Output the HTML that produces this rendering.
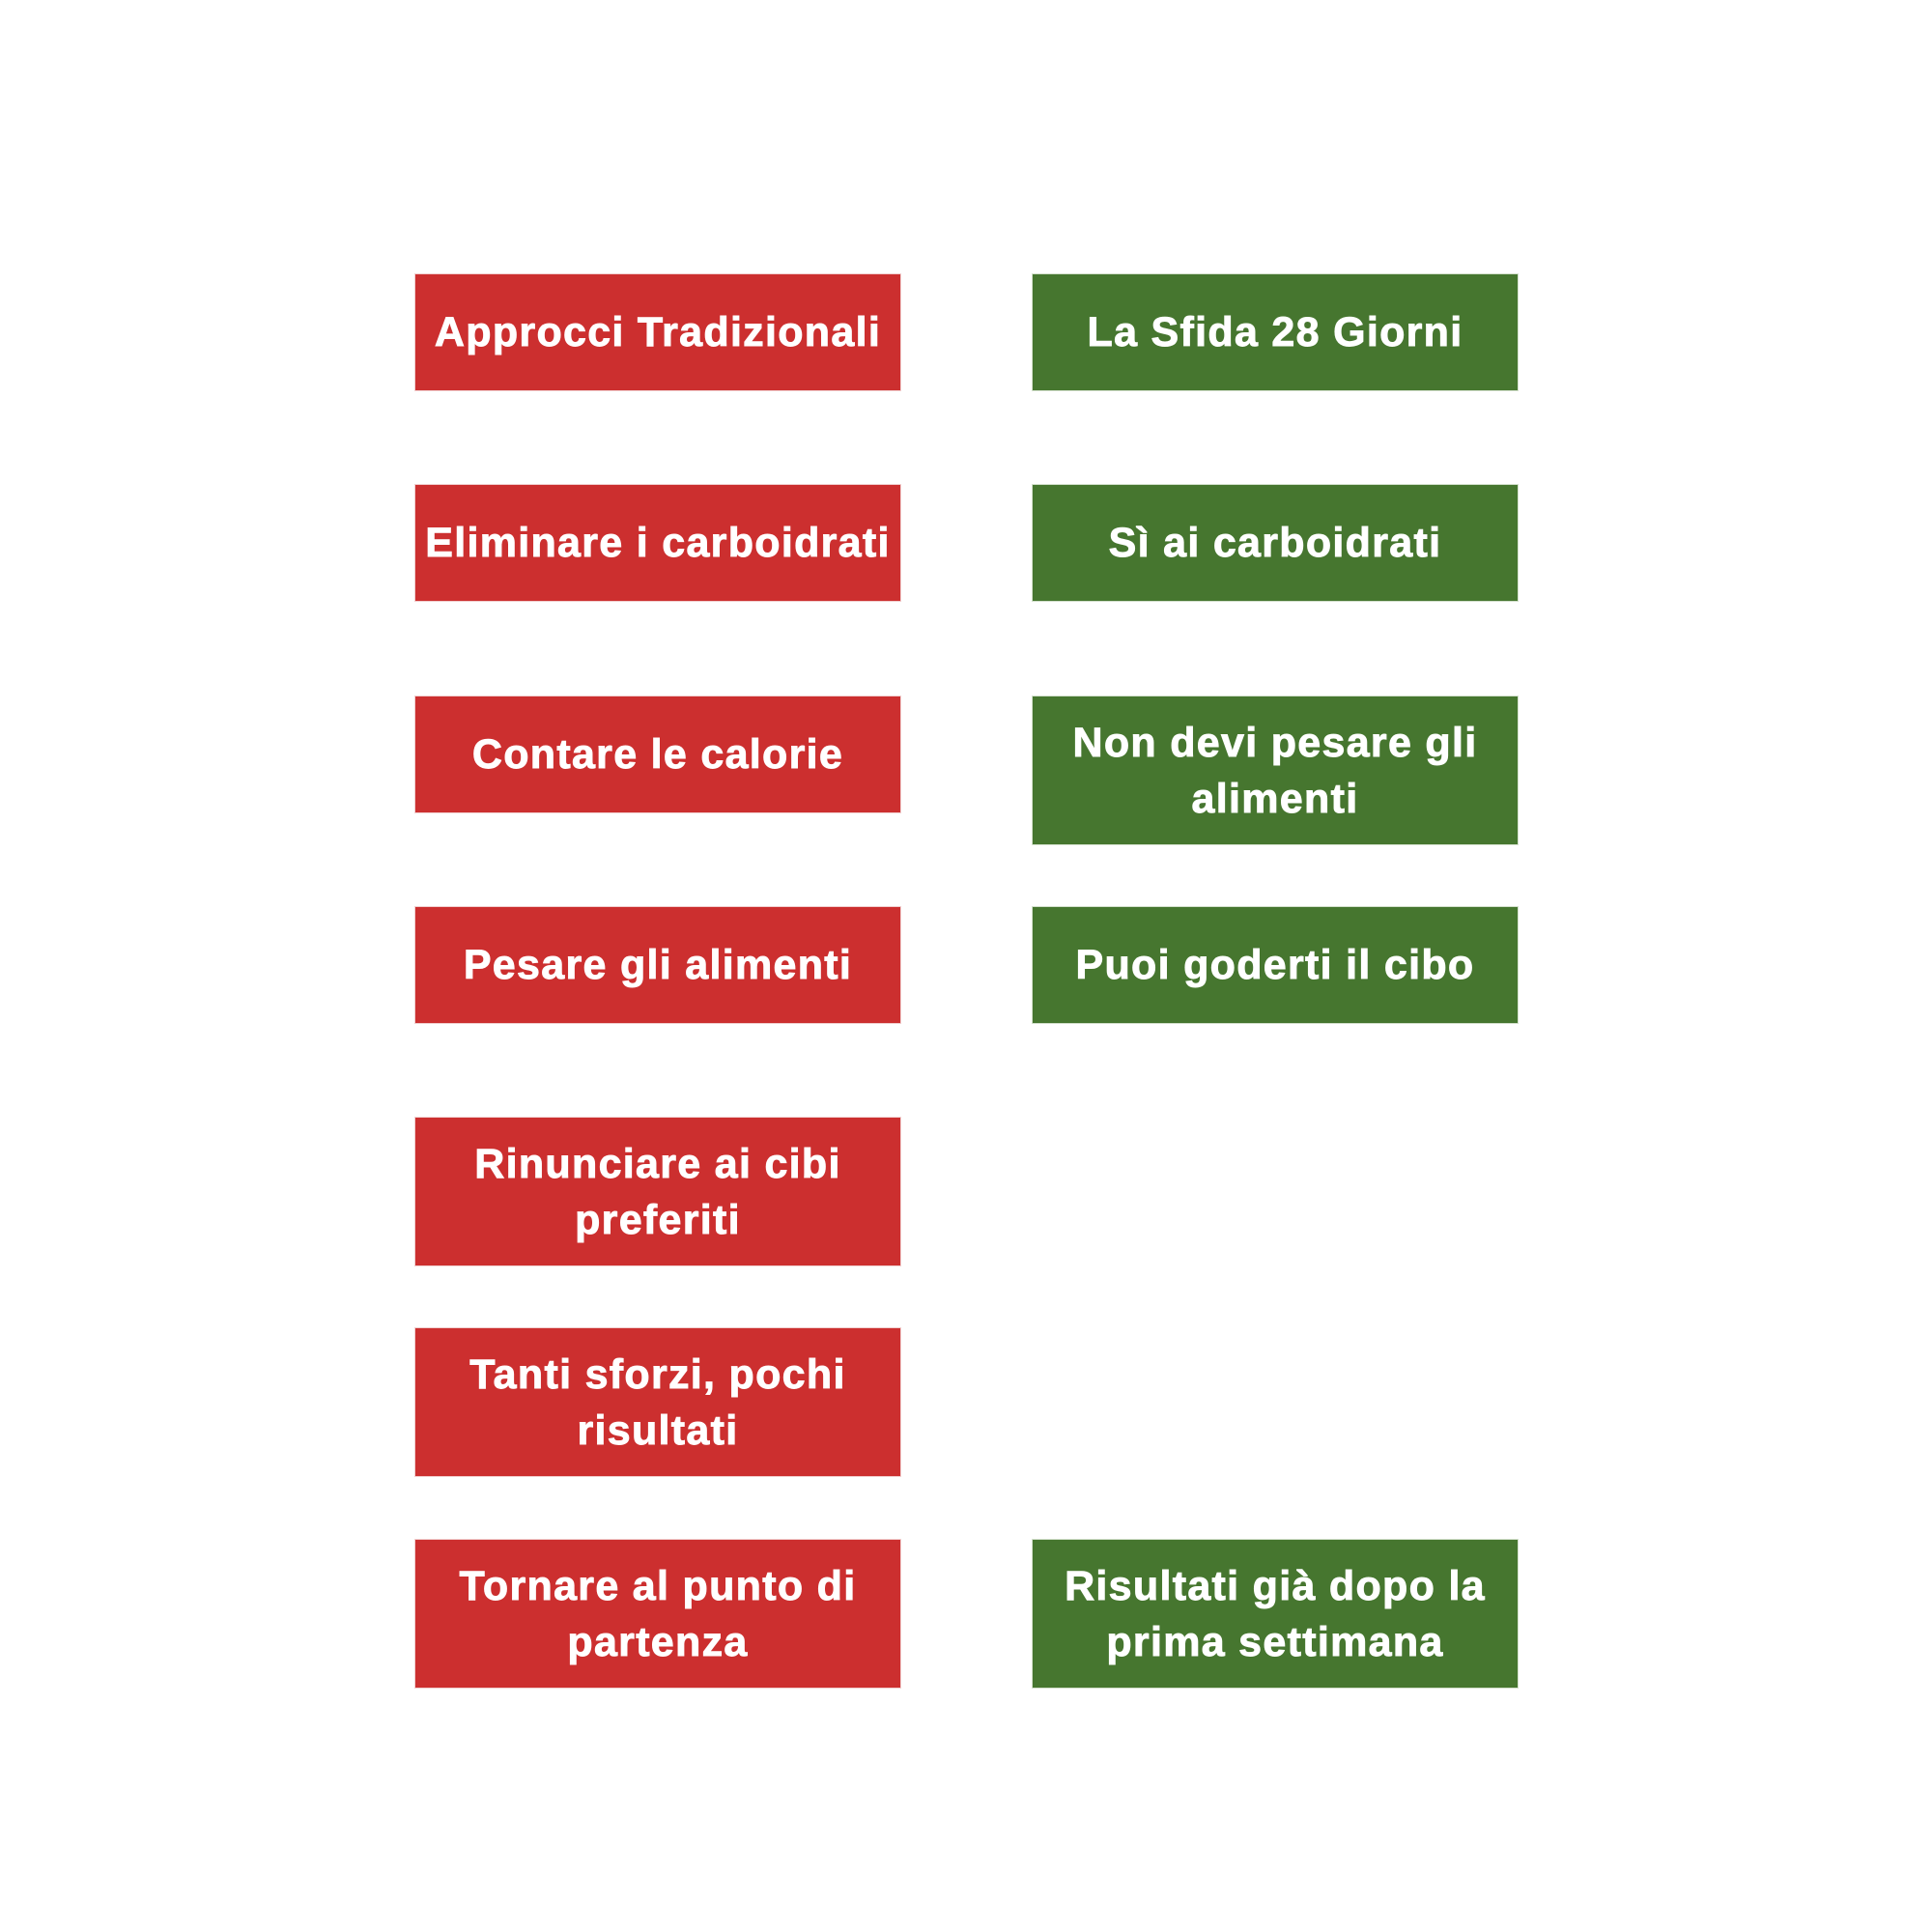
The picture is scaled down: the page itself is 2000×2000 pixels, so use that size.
<!DOCTYPE html>
<html>
<head>
<meta charset="utf-8">
<style>
  html, body { margin:0; padding:0; background:#ffffff; }
  body { width:2000px; height:2000px; position:relative; overflow:hidden; }
  .b {
    position:absolute;
    width:502px;
    display:flex; align-items:center; justify-content:center;
    text-align:center;
    color:#ffffff;
    font-family:"Liberation Sans", "DejaVu Sans", sans-serif;
    font-weight:bold;
    font-size:43px;
    letter-spacing:1.3px;
    line-height:58px;
    white-space:nowrap;
    box-sizing:border-box;
    -webkit-text-stroke:0.9px #ffffff;
  }
  .r { left:430px; background:#cc2f2f; box-shadow:0 0 0 1px #f1cfcf; }
  .g { left:1069px; background:#46762f; box-shadow:0 0 0 1px #d3e0cc; }
  .s { height:120px; }
  .d { height:153px; }
</style>
</head>
<body>
  <div class="b r s" style="top:284px;">Approcci Tradizionali</div>
  <div class="b r s" style="top:502px;">Eliminare i carboidrati</div>
  <div class="b r s" style="top:721px;">Contare le calorie</div>
  <div class="b r s" style="top:939px;">Pesare gli alimenti</div>
  <div class="b r d" style="top:1157px;">Rinunciare ai cibi<br>preferiti</div>
  <div class="b r d" style="top:1375px;">Tanti sforzi, pochi<br>risultati</div>
  <div class="b r d" style="top:1594px;">Tornare al punto di<br>partenza</div>

  <div class="b g s" style="top:284px;">La Sfida 28 Giorni</div>
  <div class="b g s" style="top:502px;">Sì ai carboidrati</div>
  <div class="b g d" style="top:721px;">Non devi pesare gli<br>alimenti</div>
  <div class="b g s" style="top:939px;">Puoi goderti il cibo</div>
  <div class="b g d" style="top:1594px;">Risultati già dopo la<br>prima settimana</div>
</body>
</html>
